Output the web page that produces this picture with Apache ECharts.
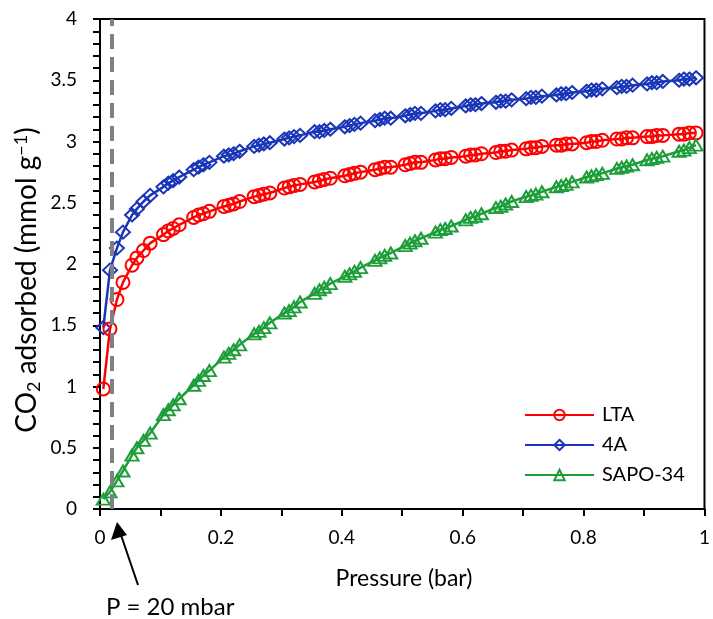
<!DOCTYPE html>
<html>
<head>
<meta charset="utf-8">
<script src="https://cdn.jsdelivr.net/npm/echarts@6/dist/echarts.min.js"></script>
<style>html,body{margin:0;padding:0;background:#fff}#c{width:713px;height:619px}</style>
</head>
<body>
<div id="c"></div>
<script>
const pressure = [0.0055,0.0165,0.028,0.038,0.053,0.061,0.072,0.083,
0.105,0.113,0.121,0.131, 0.155,0.163,0.171,0.181, 0.205,0.213,0.221,0.231,
0.255,0.263,0.271,0.281, 0.305,0.313,0.321,0.331, 0.355,0.363,0.371,0.381,
0.405,0.413,0.421,0.431, 0.455,0.463,0.471,0.481, 0.505,0.513,0.521,0.531,
0.555,0.563,0.571,0.581, 0.605,0.613,0.621,0.631, 0.655,0.663,0.671,0.681,
0.705,0.713,0.721,0.731, 0.755,0.763,0.771,0.781, 0.805,0.813,0.821,0.831,
0.855,0.863,0.871,0.881, 0.905,0.913,0.921,0.931, 0.958,0.966,0.975,0.986];

const ltaValues = [0.98,1.47,1.71,1.85,1.99,2.05,2.11,2.17,
2.24,2.27,2.29,2.32, 2.38,2.40,2.41,2.43, 2.47,2.48,2.49,2.51,
2.55,2.56,2.57,2.58, 2.62,2.63,2.64,2.65, 2.67,2.68,2.69,2.70,
2.72,2.73,2.74,2.75, 2.77,2.78,2.79,2.79, 2.81,2.82,2.83,2.83,
2.85,2.86,2.86,2.87, 2.88,2.89,2.89,2.90, 2.91,2.92,2.92,2.93,
2.94,2.95,2.95,2.96, 2.97,2.97,2.98,2.98, 2.99,3.00,3.00,3.01,
3.02,3.02,3.03,3.03, 3.04,3.04,3.05,3.05, 3.06,3.06,3.07,3.07];

const a4Values = [1.48,1.95,2.13,2.26,2.40,2.45,2.51,2.56,
2.63,2.66,2.68,2.71, 2.77,2.79,2.81,2.83, 2.88,2.89,2.90,2.92,
2.96,2.97,2.98,2.99, 3.02,3.03,3.04,3.05, 3.08,3.08,3.09,3.10,
3.12,3.13,3.14,3.15, 3.17,3.18,3.19,3.19, 3.21,3.22,3.23,3.23,
3.25,3.26,3.26,3.27, 3.29,3.30,3.30,3.31, 3.32,3.33,3.33,3.34,
3.35,3.36,3.36,3.37, 3.38,3.39,3.39,3.40, 3.41,3.42,3.42,3.43,
3.44,3.45,3.45,3.46, 3.47,3.48,3.48,3.49, 3.50,3.51,3.51,3.52];

const sapoValues = [0.08,0.14,0.23,0.31,0.44,0.50,0.56,0.62,
0.77,0.81,0.85,0.90, 1.01,1.05,1.09,1.13, 1.24,1.27,1.30,1.34,
1.43,1.45,1.48,1.52, 1.60,1.62,1.65,1.69, 1.76,1.79,1.81,1.84,
1.90,1.92,1.94,1.97, 2.03,2.05,2.07,2.09, 2.15,2.17,2.19,2.21,
2.26,2.28,2.29,2.31, 2.36,2.38,2.39,2.41, 2.46,2.47,2.49,2.51,
2.55,2.56,2.57,2.59, 2.63,2.64,2.65,2.67, 2.71,2.72,2.73,2.74,
2.78,2.79,2.80,2.81, 2.85,2.86,2.87,2.88, 2.92,2.93,2.95,2.97];

const seriesNames = ['LTA', '4A', 'SAPO-34'];
const markerPressure = 0.02;
const xTicks = [0, 0.2, 0.4, 0.6, 0.8, 1];
const yTicks = [0, 0.5, 1, 1.5, 2, 2.5, 3, 3.5, 4];
const xTitle = 'Pressure (bar)';
const yTitle = '{t|CO}{s|2}{t| adsorbed (mmol g}{p|−1}{t|)}';
const annotation = 'P = 20 mbar';

function zip(xs, ys) { return xs.map((x, i) => [x, ys[i]]); }

const FONT = 'Lato';
const chart = echarts.init(document.getElementById('c'), null, {renderer: 'canvas'});

function mkSeries(name, data, color, symbol, size, z) {
  return {
    name: name, type: 'line', data: data, z: z,
    symbol: symbol, symbolSize: size, showSymbol: true,
    lineStyle: {color: color, width: 2.5},
    itemStyle: {color: 'rgba(255,255,255,0)', borderColor: color, borderWidth: 2},
    emphasis: {disabled: true}, animation: false
  };
}

chart.setOption({
  animation: false,
  grid: {left: 100, right: 5, top: 19, bottom: 110, show: true, borderColor: '#000', borderWidth: 2, backgroundColor: 'transparent'},
  legend: {
    data: seriesNames, orient: 'vertical', left: 519, top: 400,
    itemWidth: 69, itemHeight: 13, itemGap: 10,
    textStyle: {fontFamily: FONT, fontSize: 20, color: '#000', padding: [0, 0, 0, 3]}
  },
  xAxis: {
    type: 'value', min: 0, max: 1, interval: 0.2,
    axisLine: {show: true, lineStyle: {color: '#000', width: 2}},
    axisTick: {show: true, length: 7, lineStyle: {color: '#000', width: 2}},
    minorTick: {show: true, splitNumber: 2, length: 7, lineStyle: {color: '#000', width: 2}},
    splitLine: {show: false},
    axisLabel: {fontFamily: FONT, fontSize: 19, color: '#000', margin: 19,
      formatter: v => xTicks.includes(Math.round(v * 10) / 10) ? String(Math.round(v * 10) / 10) : ''}
  },
  yAxis: {
    type: 'value', min: 0, max: 4, interval: 0.5,
    axisLine: {show: true, lineStyle: {color: '#000', width: 2}},
    axisTick: {show: true, length: 7, lineStyle: {color: '#000', width: 2}},
    minorTick: {show: true, splitNumber: 5, length: 7, lineStyle: {color: '#000', width: 2}},
    splitLine: {show: false},
    axisLabel: {fontFamily: FONT, fontSize: 19, color: '#000', margin: 23,
      formatter: v => yTicks.includes(v) ? String(v) : ''}
  },
  series: [
    mkSeries('4A', zip(pressure, a4Values), '#1a36b8', 'diamond', [14, 13], 2),
    mkSeries('LTA', zip(pressure, ltaValues), '#ff0000', 'circle', 13, 3),
    mkSeries('SAPO-34', zip(pressure, sapoValues), '#1e9e3a', 'triangle', [13, 11], 4),
    {
      name: 'marker', type: 'line', data: [], z: 10,
      markLine: {
        silent: true, symbol: ['none', 'none'], animation: false,
        label: {show: false},
        lineStyle: {color: '#808080', width: 4, type: [15, 8]},
        data: [{xAxis: markerPressure}]
      }
    }
  ],
  graphic: [
    {type: 'text', x: 404, y: 579, style: {text: xTitle, fontFamily: FONT, fontSize: 23, fill: '#000', align: 'center', verticalAlign: 'middle'}},
    {type: 'text', x: 27, y: 280, rotation: Math.PI / 2,
      style: {text: yTitle, align: 'center', verticalAlign: 'middle', fill: '#000',
        rich: {t: {fontFamily: FONT, fontSize: 28, fill: '#000'},
               s: {fontFamily: FONT, fontSize: 18, fill: '#000', padding: [15, 0, 0, 0]},
               p: {fontFamily: FONT, fontSize: 18, fill: '#000', padding: [0, 0, 12, 0]}}}},
    {type: 'line', shape: {x1: 138, y1: 585, x2: 121, y2: 535}, style: {stroke: '#000', lineWidth: 2}},
    {type: 'polygon', shape: {points: [[117, 522], [111, 540], [127, 535]]}, style: {fill: '#000'}},
    {type: 'text', left: 106, top: 595, style: {text: annotation, fontFamily: FONT, fontSize: 24, fill: '#000'}}
  ]
});
</script>
</body>
</html>
